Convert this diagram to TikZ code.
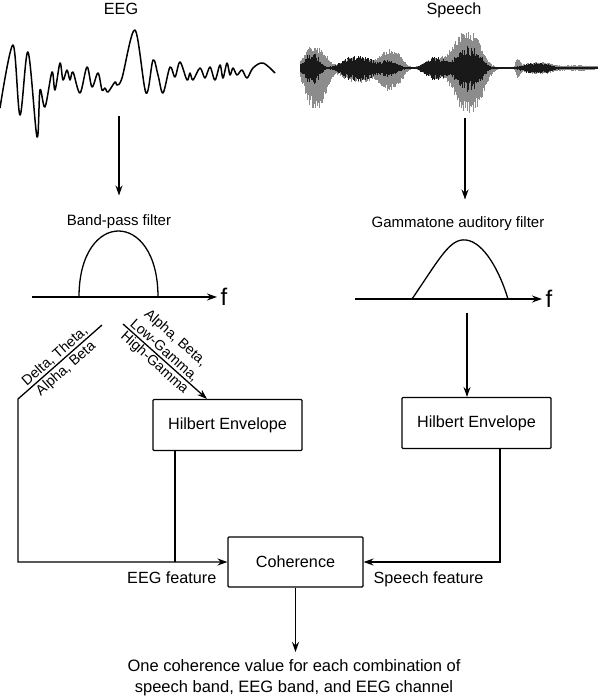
\documentclass[tikz,border=0pt]{standalone}
\usepackage{fontspec}
\setmainfont{Liberation Sans}
\usetikzlibrary{arrows.meta,positioning,calc}

\begin{document}
\begin{tikzpicture}[x=1pt,y=-1pt,>={Stealth[length=10pt,width=7pt]},line width=1.3pt]
        \tikzstyle{box}=[draw,rounded corners=1pt,line width=1.1pt,minimum width=149pt,minimum height=51pt,font=\fontsize{16.2}{19}\selectfont]
        \tikzstyle{lbl}=[inner sep=0pt,anchor=base,font=\fontsize{16.2}{19}\selectfont]
        \tikzstyle{filt}=[inner sep=0pt,anchor=base,font=\fontsize{15}{18}\selectfont]
        \tikzstyle{band}=[inner sep=2pt,align=center,font=\fontsize{14.3}{17}\selectfont]
        \tikzstyle{freq}=[right,inner sep=3pt,font=\fontsize{24}{28}\selectfont]
        \tikzset{declare function={
            bump(\x,\c,\a,\w)=\a*exp(-min(20,((\x-\c)/\w)^2));
            sg(\x,\c,\a,\w)=\a*exp(-(min(2.5,abs((\x-\c)/\w)))^3);
            gtop(\x)=1+sg(\x,315,21,14)+sg(\x,358,10,20)+sg(\x,391,18,13)+sg(\x,436,9,14)+sg(\x,467,36,18)+sg(\x,518,8,3)+sg(\x,538,5,17)+bump(\x,575,2,20);
            gbot(\x)=1+sg(\x,316,40,14)+sg(\x,358,14,20)+sg(\x,391,22,13)+sg(\x,436,10,14)+sg(\x,469,44,18)+sg(\x,518,8,3)+sg(\x,538,5,17)+bump(\x,575,2,20);
            dark(\x)=1+sg(\x,312,14,10)+sg(\x,358,11,20)+sg(\x,390,7,10)+sg(\x,436,10,14)+sg(\x,469,21,15)+sg(\x,537,4,17);}}
        \useasboundingbox (0,0) rectangle (600,697);

        % signals
        \node [lbl] (eeg) at (121,14) {EEG};
        \node [lbl] (speech) at (454,14) {Speech};
        \draw [line width=1.5pt,line join=round] plot[smooth,tension=0.55] coordinates {
            (0,108) (13,45) (20,115) (28,52) (37,137) (40,90) (45,107) (52,72) (55,90) (60,63)
            (63,80) (67,70) (70,80) (73,72) (80,93) (87,67) (92,87) (98,73) (102,90) (105,88)
            (108,92) (115,82) (117,85) (122,78) (135,30) (146,93) (153,60) (158,75) (163,93)
            (170,67) (175,77) (180,62) (187,80) (190,73) (193,80) (200,68) (205,78) (210,67)
            (215,80) (220,65) (223,78) (227,63) (230,75) (233,68) (237,75) (242,70) (247,78)
            (253,68) (263,63) (275,73)};
        \pgfmathsetseed{7}
        \foreach \x in {300,300.7,...,598} {
            \pgfmathsetmacro\gt{gtop(\x)*(0.7+0.3*rnd)}
            \pgfmathsetmacro\gb{gbot(\x)*(0.7+0.3*rnd)}
            \pgfmathsetmacro\dk{dark(\x)*(0.55+0.45*rnd)}
            \draw [black!45,line width=0.8pt] (\x,68-\gt) -- (\x,68+\gb);
            \draw [black!90,line width=0.8pt] (\x,68-\dk) -- (\x,68+1.1*\dk);
        }

        % filters
        \node [filt] (bpf) at (119,225) {Band-pass filter};
        \node [filt] (gtf) at (458,227) {Gammatone auditory filter};
        \coordinate (eegout) at (119,116);
        \coordinate (spout) at (465,118);
        \draw [->] (eegout) -- ([yshift=18pt]eegout |- bpf.north);
        \draw [->] (spout) -- ([yshift=16pt]spout |- gtf.north);
        \draw [->] (32,297) -- (217,297) node [freq] (f1) {f};
        \draw (79,297) .. controls (79,209) and (158,209) .. (158,297);
        \draw [->] (355,299) -- (542,299) node [freq] (f2) {f};
        \draw (412,299) .. controls (440,258) and (450,238) .. (466,240) .. controls (484,242) and (500,272) .. (508,299);

        % envelopes
        \node [box] (hilL) at (227.5,425) {Hilbert Envelope};
        \node [box] (hilR) at (476.5,423) {Hilbert Envelope};
        \node [box,minimum width=135pt,minimum height=50pt] (coh) at (295.5,562) {Coherence};

        \coordinate (split1) at (102,325);
        \coordinate (corner) at (18,399);
        \coordinate (split2) at (123,324);
        \coordinate (gtout) at (467,313);
        \coordinate (eegjoin) at (175,0);
        \draw [->] (split1) -- (corner) |- (coh.west);
        \path (split1) -- node [band,sloped,above=-1pt] {Delta, Theta,} node [band,sloped,below=0pt] {Alpha, Beta} (corner);
        \draw [->] (split2) -- ([xshift=-20.5pt]hilL.north)
            node [band,pos=0.43,sloped,above=-1pt] {Alpha, Beta,\\Low-Gamma,}
            node [band,pos=0.44,sloped,below=-1pt] {High-Gamma};
        \draw [->] (gtout) -- (gtout |- hilR.north);
        \draw (hilL.south -| eegjoin) -- (coh.west -| eegjoin);
        \draw [->] ([xshift=23.5pt]hilR.south) |- (coh.east);

        % coherence
        \node [lbl,anchor=base east] (eegfeat) at (217,583) {EEG feature};
        \node [lbl,anchor=base west] (spfeat) at (373,583) {Speech feature};
        \node [lbl,anchor=north,align=center,font=\fontsize{16.5}{21}\selectfont] (result) at (294,659)
            {One coherence value for each combination of\\speech band, EEG band, and EEG channel};
        \draw [->] (coh.south) -- ([yshift=7pt]coh.south |- result.north);
\end{tikzpicture}
\end{document}
